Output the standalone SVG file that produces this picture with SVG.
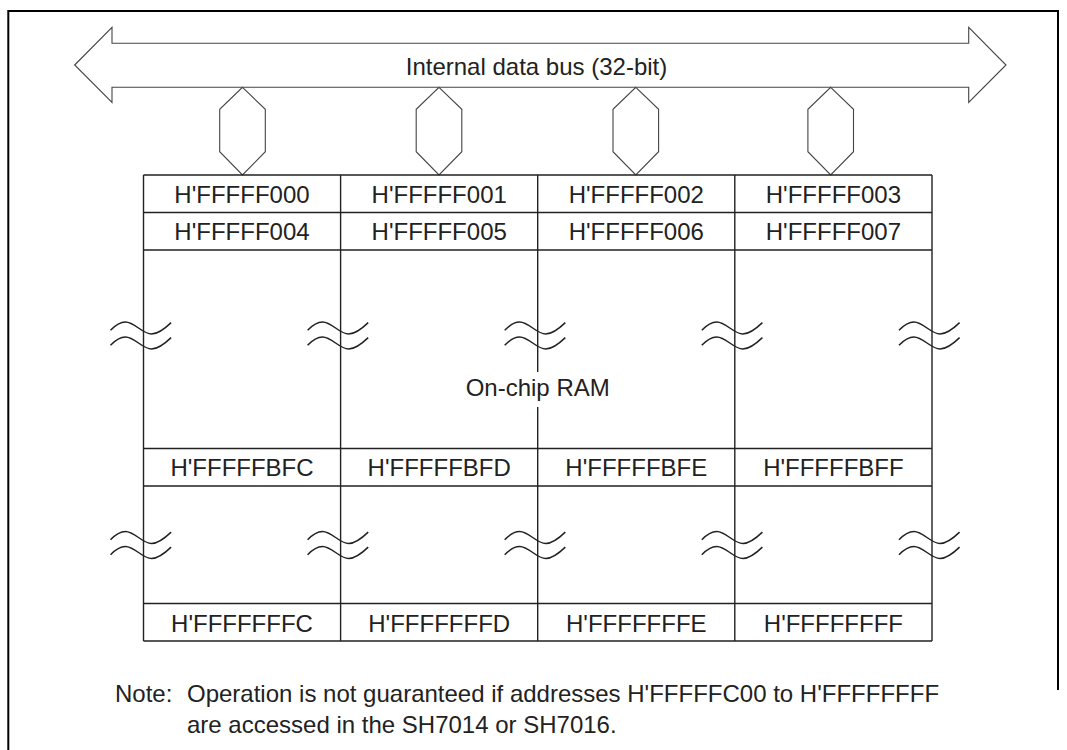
<svg xmlns="http://www.w3.org/2000/svg" width="1067" height="750" viewBox="0 0 1067 750">
<style>
.frame{fill:none;stroke:#000;stroke-width:2}
.bus{fill:#fff;stroke:#444;stroke-width:1.1;stroke-linejoin:miter}
.grid{fill:none;stroke:#222;stroke-width:1.4}
.wave{fill:none;stroke:#222;stroke-width:1.5}
.t{font-family:"Liberation Sans",Arial,sans-serif;font-size:24px;fill:#222}
.c{text-anchor:middle}
</style>
<defs>
<path id="brk" class="wave" d="M-33,8.3 C-28,3 -23,0 -18,0 C-9,0 -1,12 8,12 C14,12 22,6 27.6,0.6 M-33,23.3 C-28,18 -23,15 -18,15 C-9,15 -1,27 8,27 C14,27 22,21 27.6,15.6"/>
</defs>
<rect width="1067" height="750" fill="#fff"/>
<path class="frame" d="M8.3,750 V11 H1058 V690"/>

<g id="bus">
<polygon class="bus" points="74.7,65 112,27.3 112,43.3 968.7,43.3 968.7,27.3 1006,65 968.7,102.3 968.7,87.3 112,87.3 112,102.3"/>
<text class="t c" x="536.5" y="74.5">Internal data bus (32-bit)</text>
</g>

<g id="links">
<polygon class="bus" points="242.5,87.3 265.3,109.3 265.3,151.7 242.5,175 219.7,151.7 219.7,109.3"/>
<polygon class="bus" points="439,87.3 461.8,109.3 461.8,151.7 439,175 416.2,151.7 416.2,109.3"/>
<polygon class="bus" points="635.8,87.3 658.6,109.3 658.6,151.7 635.8,175 613,151.7 613,109.3"/>
<polygon class="bus" points="830.7,87.3 853.5,109.3 853.5,151.7 830.7,175 807.9,151.7 807.9,109.3"/>
</g>

<g id="ram">
<path class="grid" d="M143.5,175 H932 M143.5,212.5 H932 M143.5,250 H932 M143.5,448.5 H932 M143.5,486 H932 M143.5,603.5 H932 M143.5,641 H932"/>
<path class="grid" d="M143.5,175 V641 M340.6,175 V641 M537.7,175 V372 M537.7,407 V641 M734.8,175 V641 M932,175 V641"/>
<text class="t c" x="537.7" y="396">On-chip RAM</text>
</g>

<g id="breaks">
<use href="#brk" x="143.5" y="322"/>
<use href="#brk" x="340.6" y="322"/>
<use href="#brk" x="537.7" y="322"/>
<use href="#brk" x="734.8" y="322"/>
<use href="#brk" x="932" y="322"/>
<use href="#brk" x="143.5" y="531.5"/>
<use href="#brk" x="340.6" y="531.5"/>
<use href="#brk" x="537.7" y="531.5"/>
<use href="#brk" x="734.8" y="531.5"/>
<use href="#brk" x="932" y="531.5"/>
</g>

<g id="addresses">
<text class="t c" x="242" y="202.5">H'FFFFF000</text>
<text class="t c" x="439.2" y="202.5">H'FFFFF001</text>
<text class="t c" x="636.3" y="202.5">H'FFFFF002</text>
<text class="t c" x="833.4" y="202.5">H'FFFFF003</text>
<text class="t c" x="242" y="240">H'FFFFF004</text>
<text class="t c" x="439.2" y="240">H'FFFFF005</text>
<text class="t c" x="636.3" y="240">H'FFFFF006</text>
<text class="t c" x="833.4" y="240">H'FFFFF007</text>
<text class="t c" x="242" y="476.3">H'FFFFFBFC</text>
<text class="t c" x="439.2" y="476.3">H'FFFFFBFD</text>
<text class="t c" x="636.3" y="476.3">H'FFFFFBFE</text>
<text class="t c" x="833.4" y="476.3">H'FFFFFBFF</text>
<text class="t c" x="242" y="631.5">H'FFFFFFFC</text>
<text class="t c" x="439.2" y="631.5">H'FFFFFFFD</text>
<text class="t c" x="636.3" y="631.5">H'FFFFFFFE</text>
<text class="t c" x="833.4" y="631.5">H'FFFFFFFF</text>
</g>

<g id="note">
<text class="t" x="115" y="702">Note:</text>
<text class="t" x="187" y="702">Operation is not guaranteed if addresses H'FFFFFC00 to H'FFFFFFFF</text>
<text class="t" x="187" y="733">are accessed in the SH7014 or SH7016.</text>
</g>
</svg>
